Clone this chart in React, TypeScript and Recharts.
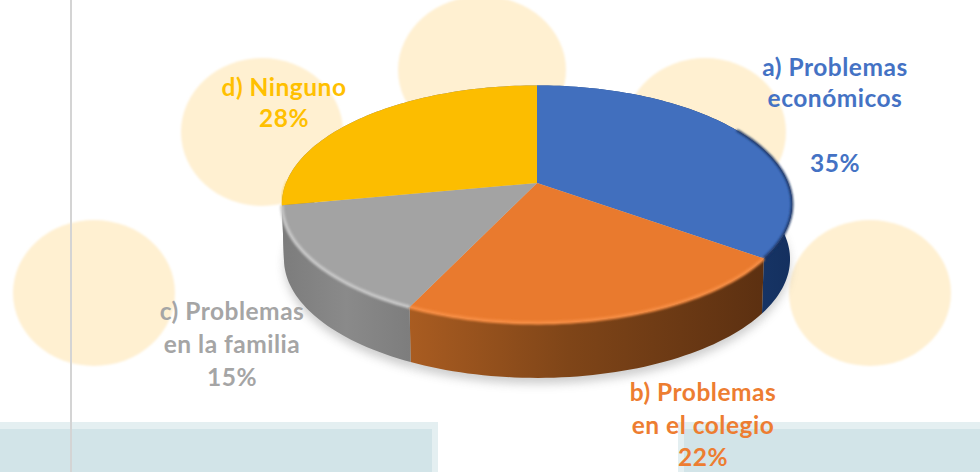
import React from "react";
import { PieChart, Pie } from "recharts";

const names = ["a) Problemas económicos", "b) Problemas en el colegio", "c) Problemas en la familia", "d) Ninguno"];
const shares = [35, 22, 15, 28];
const colors = ["#4472c4", "#ed7d31", "#a5a5a5", "#ffc000"];
const topColors = ["#416fbe", "#e97a2e", "#a3a3a3", "#fcbd00"];
const rimColors = ["#1c3564", "#f68c42", "#c6c6c6", "#fcbd00"];
const rimStart = [-0.5, -0.04, -0.04, -0.04];
const rimWidth = [2.5, 3.5, 3.5, 1];
const labelLines = [
  ["a) Problemas", "económicos", "", "35%"],
  ["b) Problemas", "en el colegio", "22%"],
  ["c) Problemas", "en la familia", "15%"],
  ["d) Ninguno", "28%"],
];

const labelAnchors = [
  { x: 835, ys: [76, 107, 0, 172] },
  { x: 703, ys: [401, 434, 466] },
  { x: 232, ys: [320, 353, 386] },
  { x: 284, ys: [96, 127] },
];
const discs = [
  { x: 94, y: 293, rx: 81, ry: 73 },
  { x: 262, y: 132, rx: 81, ry: 74 },
  { x: 482, y: 70, rx: 84, ry: 74 },
  { x: 705, y: 132, rx: 81, ry: 74 },
  { x: 870, y: 293, rx: 81, ry: 73 },
];
const bands = [
  { x: 0, w: 438 },
  { x: 678, w: 302 },
];

const data = names.map((name, i) => ({ name, value: shares[i], fill: colors[i], idx: i }));

const TILT = 115 / 251;
const PERSP = -0.178;
const DEPTH = 55;
const RAD = Math.PI / 180;

function project(p: any, deg: number) {
  const u = Math.cos(deg * RAD);
  const v = -Math.sin(deg * RAD);
  const w = 1 + PERSP * v;
  return {
    x: p.cx + (p.outerRadius * u) / w,
    y: p.cy + (p.outerRadius * TILT * v) / w,
    v,
  };
}

function arcPoints(p: any, from = p.startAngle, to = p.endAngle) {
  const n = Math.max(2, Math.ceil(Math.abs(to - from) / 1.5));
  const pts = [];
  for (let i = 0; i <= n; i++) pts.push(project(p, from + ((to - from) * i) / n));
  return pts;
}

const toPath = (pts: any[]) => pts.map((q, i) => `${i ? "L" : "M"}${q.x.toFixed(2)} ${q.y.toFixed(2)}`).join(" ");

function sink(q: any, cx: number, extra = 0) {
  return { x: cx + (q.x - cx) * 0.992, y: q.y + DEPTH + extra };
}

function ShadowShape(p: any) {
  const pts = arcPoints(p).map((q) => ({ x: p.cx + (q.x - p.cx) * 0.99, y: q.y + DEPTH + 6 }));
  return <path d={`${toPath(pts)} L${p.cx} ${p.cy + DEPTH} Z`} fill="#777" opacity={0.36} filter="url(#soft5)" />;
}

function WallShape(p: any) {
  const idx = p.idx ?? p.payload?.idx ?? 0;
  const top = arcPoints(p);
  const bottom = top.map((q) => sink(q, p.cx)).reverse();
  return <path d={`${toPath(top)} ${toPath(bottom).replace("M", "L")} Z`} fill={`url(#wall${idx})`} />;
}

function TopShape(p: any) {
  const idx = p.idx ?? p.payload?.idx ?? 0;
  const pts = arcPoints(p);
  const front = pts.filter((q) => q.v > rimStart[idx]);
  return (
    <g>
      <path d={`M${p.cx} ${p.cy} ${toPath(pts).replace("M", "L")} Z`} fill={topColors[idx]} />
      {front.length > 1 && (
        <path d={toPath(front)} fill="none" stroke={rimColors[idx]} strokeWidth={rimWidth[idx]} filter="url(#soft1)" />
      )}
    </g>
  );
}

function renderLabel(p: any) {
  const i = p.index;
  const a = labelAnchors[i];
  return (
    <text
      key={i}
      textAnchor="middle"
      fill={colors[i]}
      fontFamily="Lato, 'Open Sans', sans-serif"
      fontWeight={700}
      fontSize={24.5}
      letterSpacing={0.5}
    >
      {labelLines[i].map((t, j) =>
        t ? (
          <tspan key={j} x={a.x} y={a.ys[j]}>
            {t}
          </tspan>
        ) : null,
      )}
    </text>
  );
}

export default function App() {
  const pie = { data, dataKey: "value", nameKey: "name", cx: 537, cy: 183, outerRadius: 251, startAngle: 90, endAngle: -270, stroke: "none", isAnimationActive: false, labelLine: false } as any;
  return (
    <div style={{ position: "absolute", left: 0, top: 0, width: 980, height: 472, background: "#fff", overflow: "hidden" }}>
      <svg width={980} height={472} style={{ position: "absolute", left: 0, top: 0 }}>
        <defs>
          <filter id="soft5" x="-30%" y="-30%" width="160%" height="160%"><feGaussianBlur stdDeviation="5" /></filter>
          <filter id="soft1" x="-10%" y="-30%" width="120%" height="160%"><feGaussianBlur stdDeviation="0.9" /></filter>
          <filter id="soft2" x="-10%" y="-10%" width="120%" height="120%"><feGaussianBlur stdDeviation="1.2" /></filter>
          <linearGradient id="wall0" x1="0" x2="1" y1="0" y2="0">
            <stop offset="0" stopColor="#27508f" /><stop offset="1" stopColor="#14305f" />
          </linearGradient>
          <linearGradient id="wall1" x1="0" x2="1" y1="0" y2="0">
            <stop offset="0" stopColor="#a95c21" /><stop offset="0.45" stopColor="#7f4518" /><stop offset="1" stopColor="#5c3011" />
          </linearGradient>
          <linearGradient id="wall2" x1="0" x2="1" y1="0" y2="0">
            <stop offset="0" stopColor="#7c7c7c" /><stop offset="0.5" stopColor="#8a8a8a" /><stop offset="1" stopColor="#7d7d7d" />
          </linearGradient>
          <linearGradient id="wall3" x1="0" x2="1" y1="0" y2="0">
            <stop offset="0" stopColor="#7c7c7c" /><stop offset="1" stopColor="#7c7c7c" />
          </linearGradient>
        </defs>
        {discs.map((d, i) => (
          <ellipse key={i} cx={d.x} cy={d.y} rx={d.rx} ry={d.ry} fill="#fff0d1" filter="url(#soft2)" />
        ))}
        {bands.map((b, i) => (
          <g key={i}>
            <rect x={b.x} y={422} width={b.w} height={50} fill="#e4eff1" />
            <rect x={b.x + (b.x ? 6 : 0)} y={429} width={b.w - 6} height={43} fill="#d2e4e8" />
          </g>
        ))}
        <rect x={70} y={0} width={2} height={472} fill="#d4d4d4" />
      </svg>
      <div style={{ position: "absolute", left: 0, top: 0 }}>
        <PieChart width={980} height={472} margin={{ top: 0, right: 0, bottom: 0, left: 0 }}>
          <Pie {...pie} shape={ShadowShape} />
          <Pie {...pie} shape={WallShape} />
          <Pie {...pie} shape={TopShape} label={renderLabel} />
        </PieChart>
      </div>
    </div>
  );
}
